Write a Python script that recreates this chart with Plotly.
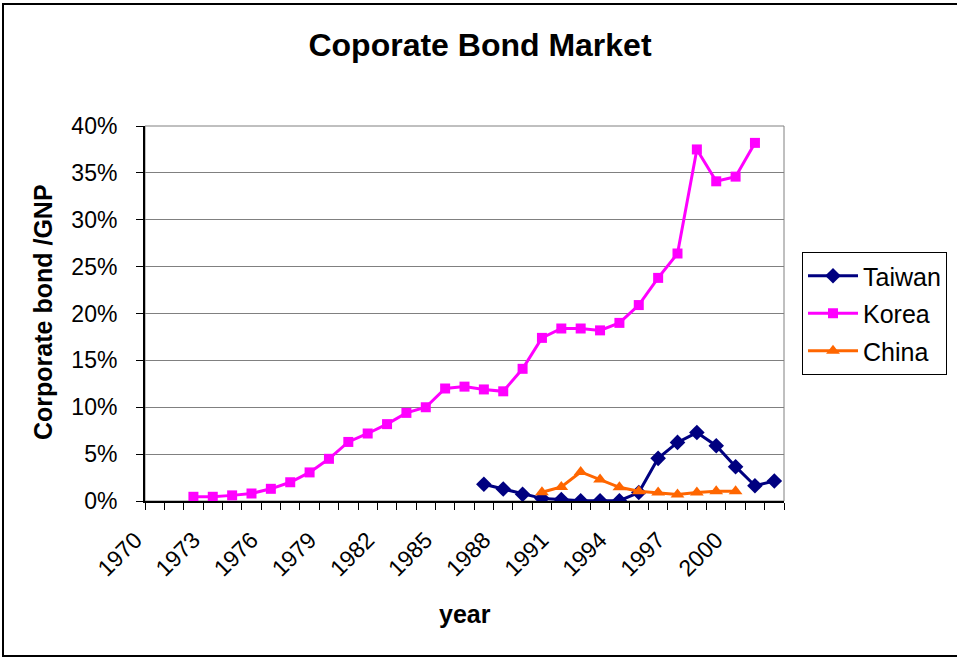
import plotly.graph_objects as go

# Category axis: one slot per year
years = list(range(1970, 2003))
tick_years = list(range(1970, 2001, 3))
tick_text = [str(y) for y in tick_years]

# Corporate bond outstanding as share of GNP (%)
korea_years = list(range(1972, 2002))
korea = [0.45, 0.45, 0.6, 0.8, 1.3, 2.0, 3.05, 4.5, 6.3, 7.2, 8.2, 9.4, 10.0,
         12.0, 12.2, 11.9, 11.7, 14.1, 17.4, 18.4, 18.4, 18.2, 19.0, 20.9,
         23.8, 26.4, 37.5, 34.1, 34.6, 38.2]

taiwan_years = list(range(1987, 2003))
taiwan = [1.78, 1.28, 0.71, 0.28, 0.15, 0.03, 0.03, 0.03, 0.9, 4.55, 6.25,
          7.3, 5.9, 3.66, 1.63, 2.13]

china_years = list(range(1990, 2001))
china = [0.93, 1.5, 3.1, 2.3, 1.46, 1.03, 0.9, 0.7, 0.9, 1.03, 1.03]

FONT = "Liberation Sans, Arial, sans-serif"

fig = go.Figure()
fig.add_trace(go.Scatter(
    x=taiwan_years, y=taiwan, name="Taiwan", legendgroup="tw",
    mode="lines+markers", line=dict(color="#000080", width=3),
    marker=dict(symbol="diamond", size=12, color="#000080")))
fig.add_trace(go.Scatter(
    x=korea_years, y=korea, name="Korea", legendgroup="kr",
    mode="lines+markers", line=dict(color="#FF00FF", width=3),
    marker=dict(symbol="square", size=10, color="#FF00FF")))
fig.add_trace(go.Scatter(
    x=china_years, y=china, name="China", legendgroup="cn",
    mode="lines+markers", line=dict(color="#FF6600", width=3),
    marker=dict(symbol="triangle-up", size=12, color="#FF6600")))

# Empty carrier trace so the year-label axis is created
fig.add_trace(go.Scatter(
    x=tick_years, y=[None] * len(tick_years), xaxis="x2", yaxis="y2",
    mode="markers", marker=dict(opacity=0), showlegend=False,
    hoverinfo="skip"))

W, H = 957, 658
PLOT_L, R, T, B = 145, 173, 126, 157   # plot area edges (px)
L = 90                                 # paper starts left of the plot area
pw, ph = W - L - R, H - T - B
plot_w = W - PLOT_L - R

def px_x(px):
    return (px - L) / pw

def px_y(py):
    return (H - B - py) / ph

x_range = [1969.5, 2002.5]
px_per_year = plot_w / (x_range[1] - x_range[0])

# rotated year labels sit a little left of their slot centre,
# so they live on a separate, offset axis spanning the full paper width
label_shift = 1.0
x2_range = [x_range[0] - (PLOT_L - L) / px_per_year + label_shift,
            x_range[1] + label_shift]

fig.update_layout(
    width=W, height=H,
    margin=dict(l=L, r=R, t=T, b=B, autoexpand=False),
    paper_bgcolor="white", plot_bgcolor="rgba(0,0,0,0)",
    font=dict(family=FONT, color="black", size=22),
    title=dict(text="<b>Coporate Bond Market</b>", x=480 / W, xanchor="center",
               y=1 - 45 / H, yanchor="middle",
               font=dict(size=32, family=FONT, color="black")),
    showlegend=True,
    legend=dict(x=px_x(802), y=px_y(252), xanchor="left", yanchor="top",
                bordercolor="black", borderwidth=1, bgcolor="white",
                font=dict(size=25, family=FONT), tracegroupgap=2,
                itemsizing="trace", itemwidth=50),
    xaxis=dict(
        domain=[px_x(PLOT_L), 1], anchor="y",
        range=x_range, showticklabels=False, ticks="", showgrid=False,
        showline=True, linecolor="black", linewidth=2, zeroline=False,
        minor=dict(ticks="outside", ticklen=7, tickcolor="black",
                   tickwidth=1, tick0=1969.5, dtick=1, showgrid=False)),
    xaxis2=dict(
        anchor="y2", side="bottom", domain=[0, 1],
        range=x2_range,
        tickmode="array", tickvals=tick_years, ticktext=tick_text,
        tickangle=-45, ticks="", showgrid=False, showline=False,
        zeroline=False, tickfont=dict(size=23, family=FONT),
        ticklabelstandoff=20),
    yaxis2=dict(anchor="x2", domain=[0, 1], range=[0, 40], visible=False,
                showgrid=False, zeroline=False),
    yaxis=dict(
        anchor="x", domain=[0, 1],
        range=[0, 40], tickmode="array", tickvals=list(range(0, 41, 5)),
        ticktext=[f"{v}%" for v in range(0, 41, 5)],
        ticks="outside", ticklen=7, tickcolor="black",
        showgrid=True, gridcolor="#808080", gridwidth=1,
        showline=True, linecolor="black", linewidth=2, zeroline=False,
        tickfont=dict(size=23, family=FONT), ticklabelstandoff=14),
)

# Plot-area frame (grey) and outer chart border
fig.add_shape(type="rect", xref="x domain", yref="y domain",
              x0=0, x1=1, y0=0, y1=1,
              line=dict(color="#808080", width=1), layer="below")
fig.add_shape(type="rect", xref="paper", yref="paper",
              x0=px_x(3), x1=px_x(962), y0=px_y(656), y1=px_y(4),
              line=dict(color="black", width=2))

fig.add_annotation(text="<b>year</b>", xref="paper", yref="paper",
                   x=px_x(465), y=px_y(614), showarrow=False,
                   xanchor="center", yanchor="middle",
                   font=dict(size=25, family=FONT, color="black"))
fig.add_annotation(text="<b>Corporate bond /GNP</b>", xref="paper", yref="paper",
                   x=px_x(43), y=px_y(312), showarrow=False, textangle=-90,
                   xanchor="center", yanchor="middle",
                   font=dict(size=25, family=FONT, color="black"))

fig.write_html("out.html")
